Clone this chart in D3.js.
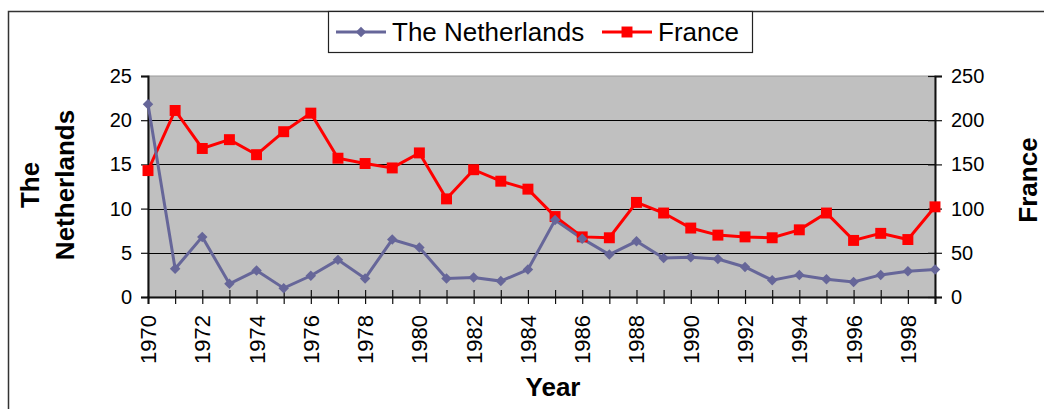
<!DOCTYPE html>
<html>
<head>
<meta charset="utf-8">
<script src="https://cdn.jsdelivr.net/npm/d3@7"></script>
<style>
  body { margin: 0; background: #fff; }
  text { font-family: Arial, "Liberation Sans", sans-serif; }
</style>
</head>
<body>
<script>
let years = d3.range(1970, 2000);
let netherlands = [21.8, 3.2, 6.8, 1.5, 3.0, 1.0, 2.4, 4.2, 2.1, 6.5,
                   5.6, 2.1, 2.2, 1.8, 3.1, 8.7, 6.6, 4.8, 6.3, 4.4,
                   4.5, 4.3, 3.4, 1.9, 2.5, 2.0, 1.7, 2.5, 2.9, 3.1];
let france = [143, 211, 168, 178, 161, 187, 208, 157, 151, 146,
              163, 111, 144, 131, 122, 91, 68, 67, 107, 95,
              78, 70, 68, 67, 76, 95, 64, 72, 65, 102];
let leftTicks = [0, 5, 10, 15, 20, 25];
let rightTicks = [0, 50, 100, 150, 200, 250];
let yearLabels = d3.range(1970, 2000, 2);

let width = 1044;
let height = 409;

let svg = d3.select("body")
            .append("svg")
            .attr("width", width)
            .attr("height", height);

// outer chart frame
svg.append("rect")
    .attr("x", 8.5)
    .attr("y", 11.5)
    .attr("width", width)
    .attr("height", height)
    .style("fill", "white")
    .style("stroke", "#333")
    .style("stroke-width", "1.5");

let x = d3.scaleLinear().domain([1970, 1999]).range([148, 935]);
let yL = d3.scaleLinear().domain([0, 25]).range([297, 76]);
let yR = d3.scaleLinear().domain([0, 250]).range([297, 76]);

// plot area
svg.append("rect")
    .attr("x", x(1970))
    .attr("y", yL(25))
    .attr("width", x(1999) - x(1970))
    .attr("height", yL(0) - yL(25))
    .style("fill", "#c0c0c0")
    .style("stroke", "#999")
    .style("stroke-width", "1");

// gridlines
svg.append("g")
    .selectAll("line")
    .data(leftTicks.slice(1, 5))
    .join("line")
    .attr("x1", x(1970))
    .attr("x2", x(1999))
    .attr("y1", d => Math.round(yL(d)) + 0.5)
    .attr("y2", d => Math.round(yL(d)) + 0.5)
    .style("stroke", "black")
    .style("stroke-width", "1.2");

// left axis
let leftAxis = svg.append("g")
    .attr("transform", `translate(${x(1970)},0)`)
    .call(d3.axisLeft(yL).tickValues(leftTicks).tickSize(7).tickPadding(9));

// right axis
let rightAxis = svg.append("g")
    .attr("transform", `translate(${x(1999)},0)`)
    .call(d3.axisRight(yR).tickValues(rightTicks).tickSize(7).tickPadding(9));
rightAxis.selectAll(".tick line").attr("x1", -7);

// bottom axis
let bottomAxis = svg.append("g")
    .attr("transform", `translate(0,${yL(0)})`)
    .call(d3.axisBottom(x).tickValues(years).tickSize(7).tickFormat(""));
bottomAxis.selectAll(".tick line").attr("y1", -7);

[leftAxis, rightAxis, bottomAxis].forEach(a => {
    a.select(".domain").style("stroke", "#111").style("stroke-width", "2");
    a.selectAll(".tick line").style("stroke", "#111").style("stroke-width", "1.2");
    a.selectAll("text").style("font-size", "20px").style("fill", "black")
        .style("font-family", "Arial, 'Liberation Sans', sans-serif");
});

// year labels, rotated
svg.append("g")
    .selectAll("text")
    .data(yearLabels)
    .join("text")
    .attr("transform", d => `translate(${x(d) + 8},315) rotate(-90)`)
    .attr("text-anchor", "end")
    .style("font-size", "22px")
    .text(d => d);

// lines
let nlLine = d3.line()
    .x((d, i) => x(years[i]))
    .y(d => yL(d));
let frLine = d3.line()
    .x((d, i) => x(years[i]))
    .y(d => yR(d));

svg.append("path")
    .attr("d", frLine(france))
    .style("fill", "none")
    .style("stroke", "#ff0000")
    .style("stroke-width", "3");

svg.append("path")
    .attr("d", nlLine(netherlands))
    .style("fill", "none")
    .style("stroke", "#666699")
    .style("stroke-width", "3");

let diamond = d3.symbol().type(d3.symbolDiamond2).size(70);
let square = d3.symbol().type(d3.symbolSquare).size(120);

svg.append("g")
    .selectAll("path")
    .data(france)
    .join("path")
    .attr("d", square)
    .attr("transform", (d, i) => `translate(${x(years[i])},${yR(d)})`)
    .style("fill", "#ff0000");

svg.append("g")
    .selectAll("path")
    .data(netherlands)
    .join("path")
    .attr("d", diamond)
    .attr("transform", (d, i) => `translate(${x(years[i])},${yL(d)})`)
    .style("fill", "#666699");

// axis titles
svg.append("text")
    .attr("x", 553)
    .attr("y", 396)
    .attr("text-anchor", "middle")
    .style("font-size", "26px")
    .style("font-weight", "bold")
    .text("Year");

let leftTitle = svg.append("text")
    .attr("transform", "translate(0,185) rotate(-90)")
    .attr("text-anchor", "middle")
    .style("font-size", "26px")
    .style("font-weight", "bold");
leftTitle.append("tspan").attr("x", 0).attr("y", 39).text("The");
leftTitle.append("tspan").attr("x", 0).attr("y", 74).text("Netherlands");

svg.append("text")
    .attr("transform", "translate(1037,180) rotate(-90)")
    .attr("text-anchor", "middle")
    .style("font-size", "26px")
    .style("font-weight", "bold")
    .text("France");

// legend
let legend = svg.append("g");
legend.append("rect")
    .attr("x", 328.5)
    .attr("y", 11.5)
    .attr("width", 424)
    .attr("height", 41)
    .style("fill", "white")
    .style("stroke", "#222")
    .style("stroke-width", "1.2");

legend.append("line")
    .attr("x1", 336).attr("x2", 386).attr("y1", 32).attr("y2", 32)
    .style("stroke", "#666699").style("stroke-width", "3");
legend.append("path")
    .attr("d", diamond)
    .attr("transform", "translate(361,32)")
    .style("fill", "#666699");
legend.append("text")
    .attr("x", 392).attr("y", 41)
    .style("font-size", "26px")
    .text("The Netherlands");

legend.append("line")
    .attr("x1", 602).attr("x2", 652).attr("y1", 32).attr("y2", 32)
    .style("stroke", "#ff0000").style("stroke-width", "3");
legend.append("path")
    .attr("d", square)
    .attr("transform", "translate(627,32)")
    .style("fill", "#ff0000");
legend.append("text")
    .attr("x", 658).attr("y", 41)
    .style("font-size", "26px")
    .text("France");
</script>
</body>
</html>
